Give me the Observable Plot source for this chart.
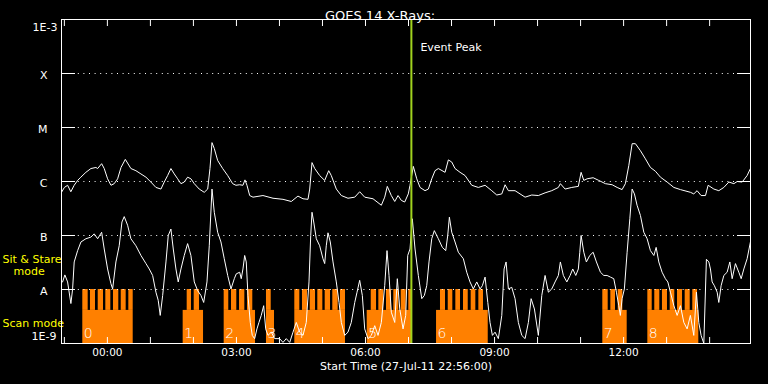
<!DOCTYPE html>
<html><head><meta charset="utf-8">
<script src="https://cdn.jsdelivr.net/npm/d3@7"></script>
<script src="https://cdn.jsdelivr.net/npm/@observablehq/plot@0.6"></script>
<style>html,body{margin:0;padding:0;background:#000;}</style>
</head><body><div id="chart"></div>
<script>
// ---- data (time = minutes after start 27-Jul-11 22:56, flux given as log10 W/m^2) ----
const title = "GOES 14 X-Rays:";
const caption = "Start Time (27-Jul-11 22:56:00)";
const xDomain = [0, 961];
const hourTicks = [4,64,124,184,244,304,364,424,484,544,604,664,724,784,844,904];
const labelTicks = [64,244,424,604,784];
const labelTickText = ["00:00","03:00","06:00","09:00","12:00"];
const classLevels = [1e-4,1e-5,1e-6,1e-7,1e-8];
const classNames = ["X","M","C","B","A"];
const topLabel = "1E-3", bottomLabel = "1E-9";

const upperTime = [0,4,8.5,13,17.7,22.5,27,34,41,48,50.4,56,59.6,64.3,69,73.5,78.3,83,89,96.8,103.8,110.8,117.8,124.7,131.7,138.7,143.3,148,152.6,157.3,162,166.6,171.2,175.9,180.5,185.2,192.1,199.1,203.9,207.1,209.9,213.1,217.8,224.8,231.8,238.7,243.3,248.5,253.1,255.9,258.7,262.5,267.1,281,295,308.9,320.5,329.8,336.8,343.8,346.2,349.4,353.2,360.1,367.1,372.7,376.3,383.3,390.3,399.6,409,415.9,422.9,434.5,446.1,450.8,454.4,460,464.8,469.4,474,478.7,483.7,486.1,490.7,495.5,500.1,507,511.7,516.4,521,525.6,535,539.6,544.3,548.9,555.9,562.9,572.2,581.4,590.8,600.1,607.1,614.1,618.7,623.3,632.6,646.6,655.9,665.1,674.5,683.8,693,695.8,702.4,711.7,720.9,724.7,728.5,733.1,741.5,749.4,758.6,768,775,781.9,786.5,791.3,795.9,800.5,807.5,814.4,821.4,828.4,835.4,844.7,854.1,863.3,877.2,881.9,886.5,892.1,898.2,901.9,909.9,916.8,923.8,930.8,937.8,942.4,949.4,956.3,960.9];
const upperLogFlux = [-6.20,-6.11,-6.07,-6.19,-6.07,-5.98,-5.92,-5.83,-5.76,-5.74,-5.76,-5.67,-5.76,-5.95,-6.07,-6.04,-5.95,-5.74,-5.59,-5.76,-5.80,-5.86,-5.92,-6.01,-6.11,-6.14,-6.01,-5.89,-5.76,-5.86,-5.95,-6.04,-6.01,-5.92,-5.95,-6.04,-6.14,-6.20,-6.14,-5.76,-5.28,-5.39,-5.61,-5.76,-5.89,-6.04,-6.07,-6.06,-6.07,-5.97,-6.07,-6.26,-6.29,-6.26,-6.31,-6.33,-6.37,-6.27,-6.32,-6.33,-6.14,-5.65,-5.76,-5.89,-5.98,-5.80,-5.89,-6.14,-6.26,-6.31,-6.29,-6.19,-6.29,-6.32,-6.44,-6.29,-6.09,-6.26,-6.37,-6.26,-6.35,-6.38,-6.23,-6.07,-5.72,-5.95,-6.11,-6.17,-6.14,-5.95,-5.80,-5.76,-5.83,-5.60,-5.64,-5.76,-5.83,-5.89,-6.07,-6.11,-6.07,-6.17,-6.25,-6.23,-6.06,-6.17,-6.17,-6.29,-6.25,-6.26,-6.21,-6.17,-6.11,-6.04,-6.14,-6.11,-6.09,-5.83,-5.98,-5.95,-5.93,-5.98,-6.04,-6.06,-6.11,-6.15,-6.04,-5.70,-5.30,-5.30,-5.43,-5.58,-5.74,-5.81,-5.92,-6.01,-6.11,-6.15,-6.20,-6.23,-6.17,-6.26,-6.26,-6.07,-6.14,-6.17,-6.11,-6.01,-6.04,-6.00,-6.01,-5.89,-5.76];

const lowerTime = [1.5,4.7,8.5,13.1,15.5,17.7,22.5,27.1,34,41,45.6,50.4,56,59.6,64.3,68.9,71.3,75.9,80.5,84.3,87.5,92.2,96.8,103.8,110.8,117.8,122.4,127.1,131.7,134.9,137.7,141.1,145.7,148.9,152.6,155.9,159.6,162.8,166.6,171.2,175.9,180.5,185.2,189.9,194.5,198.3,202.9,206.1,209.9,213.1,217.8,222.4,227,231.8,236.4,241,243.8,248.5,250.7,253.1,255.5,257.7,260.1,263.3,266.1,269.4,272.6,275.4,278.6,282,284.8,288,292.6,297.3,304.3,308.9,313.5,318.3,322.9,327.5,332.2,336.8,341.4,345.2,347.6,349.4,351.8,355.4,360.1,364.7,367.1,369.3,371.7,374.9,378.7,383.3,387.1,390.3,395,399.6,404.2,409,412.2,415.9,419.6,422.9,427.5,432.1,436.9,441.5,446.1,450.8,454,456.8,460,464.8,468.4,471.8,476.4,480.1,482.9,486.1,489.3,493.1,497.7,502.5,506.1,509.4,512.6,516.4,520,525.6,531.2,535.9,538.7,541,544.3,548.9,553.5,560.5,565.2,569.8,574.4,579.2,583.8,587,590.8,594.6,597.7,601,604.7,609.3,614.1,617.3,620.1,623.3,628,632.6,637.2,642,646.6,651.2,655,659.6,665.1,669.9,674.5,679.1,683.8,688.4,693,695.8,700,704.8,709.4,713.1,717.3,720.9,722.9,724.7,728.5,732.1,736.8,741.5,746.1,751.7,756.4,761,765.6,770.3,774,777.3,779.5,781.9,785.1,788.9,792.7,795.9,799.1,802.8,807.5,812.2,816.8,821.4,826.2,829.4,833.1,837.7,842.3,845.7,849.3,854.1,858.7,863.3,868,872.6,877.2,881.9,885.6,888.9,892.1,895.9,899.5,902.9,905.1,907.5,910.7,914.5,916.8,920,923.8,928.4,932.2,935.4,940,944.7,948,951.7,956.3,960.9];
const lowerLogFlux = [-7.86,-7.73,-7.86,-8.26,-7.99,-7.49,-7.28,-7.12,-7.06,-7.03,-6.97,-7.06,-6.94,-7.25,-7.62,-7.89,-7.99,-7.49,-7.19,-6.75,-6.65,-6.81,-7.06,-7.19,-7.37,-7.52,-7.62,-7.74,-8.05,-8.20,-8.48,-8.11,-7.49,-7.00,-6.88,-7.25,-7.62,-7.86,-7.62,-7.37,-7.15,-7.37,-7.86,-8.02,-8.11,-8.24,-7.86,-7.19,-6.14,-6.57,-6.94,-7.12,-7.43,-7.74,-7.99,-7.80,-7.71,-7.68,-7.80,-7.62,-7.37,-7.49,-8.11,-8.61,-8.85,-8.91,-8.73,-8.61,-8.48,-8.30,-8.73,-8.85,-8.79,-8.91,-8.91,-8.98,-8.91,-8.98,-8.79,-8.61,-8.79,-8.85,-8.61,-7.86,-7.00,-6.57,-6.75,-7.06,-7.19,-7.43,-7.52,-7.19,-6.95,-7.12,-7.49,-7.86,-8.24,-8.61,-8.85,-8.79,-8.61,-8.24,-8.05,-7.83,-8.11,-8.73,-8.91,-8.85,-8.67,-8.85,-8.61,-7.93,-7.28,-7.74,-8.42,-8.61,-7.80,-8.36,-8.73,-8.48,-7.37,-7.25,-6.69,-7.25,-7.74,-8.17,-8.11,-7.93,-7.49,-7.06,-6.91,-7.06,-7.22,-7.28,-7.00,-6.66,-6.94,-7.12,-7.31,-7.43,-7.68,-7.86,-7.99,-7.86,-7.99,-7.93,-7.77,-8.24,-8.61,-8.85,-8.79,-8.91,-8.48,-7.62,-7.49,-7.99,-7.96,-8.17,-8.61,-8.85,-8.91,-8.61,-8.17,-8.36,-8.85,-8.11,-7.74,-8.05,-7.99,-7.86,-7.74,-7.49,-7.74,-7.86,-7.74,-7.62,-7.74,-7.62,-7.31,-7.00,-7.31,-7.49,-7.37,-7.31,-7.49,-7.68,-7.74,-7.74,-7.77,-7.80,-8.05,-8.30,-8.48,-8.17,-7.99,-7.31,-6.69,-6.14,-6.23,-6.44,-6.63,-6.94,-7.06,-7.28,-7.37,-7.22,-7.49,-7.68,-7.80,-7.86,-8.05,-8.30,-8.48,-8.30,-8.61,-8.73,-8.48,-8.85,-8.05,-8.61,-8.85,-9.00,-7.44,-7.49,-7.62,-7.86,-7.93,-8.05,-8.24,-7.93,-7.74,-7.68,-7.49,-7.80,-7.52,-7.68,-7.80,-7.62,-7.43,-7.12];

// observation blocks: scan periods and sit & stare exposures
const blockIds = ["0","1","2","3","4","5","6","7","8"];
const scanStart = [29.7,169.7,226.9,285.9,325.4,426.4,523.1,755.0,817.8];
const scanEnd   = [100.0,198.1,270.6,297.1,396.1,489.6,595.2,789.0,888.9];
const stareStart = [29.7,40.4,51.2,61.8,72.5,83.3,93.9, 175.3,185.1, 226.9,237.1,248.3,259.4, 285.9, 325.4,336.1,346.9,357.5,367.8,378.4,389.1, 432.0,442.6,453.3,463.5,473.8,484.4, 528.6,539.4,550.0,560.7,571.4,582.1, 755.0,766.2,776.5, 817.8,827.5,838.2,849.0,859.2,869.9,880.5];
const stareEnd   = [37.2,47.4,58.6,68.8,79.9,90.2,100.0, 181.3,192.5, 233.3,244.5,255.7,266.8, 292.5, 332.4,343.1,354.3,364.5,375.2,385.9,396.1, 439.4,449.5,460.3,470.5,480.8,489.6, 535.6,545.8,556.5,567.3,577.9,588.6, 762.5,772.7,782.9, 823.9,834.5,845.2,855.4,866.2,876.9,887.1];
const scanLevel = [1e-9, 4.1e-9];
const stareLevel = [4.1e-9, 1e-8];
const eventPeak = [{t: 488, label: "Event Peak"}];
const modeLabels = [
  {text: "Sit & Stare", y: 3.6e-8, dx: -59},
  {text: "mode", y: 2.15e-8, dx: -48},
  {text: "Scan mode", y: 2.3e-9, dx: -59}
];
const blockLabelY = 1.53e-9;

// ---- build tables ----
const upper = upperTime.map((t, i) => ({t, f: 10 ** upperLogFlux[i]}));
const lower = lowerTime.map((t, i) => ({t, f: 10 ** lowerLogFlux[i]}));
const scans = blockIds.map((id, i) => ({id, a: scanStart[i], b: scanEnd[i]}));
const stares = stareStart.map((a, i) => ({a, b: stareEnd[i]}));

const ORANGE = "#ff8000", GREEN = "#a0d21e", YELLOW = "#ffff00";
const classIdx = new Map(classLevels.map((v, i) => [v, i]));

const chart = Plot.plot({
  width: 768, height: 384,
  marginLeft: 61, marginRight: 18, marginTop: 19, marginBottom: 41,
  style: {background: "#000", color: "#fff", fontFamily: "DejaVu Sans, sans-serif", fontSize: "11px", overflow: "visible"},
  x: {domain: xDomain},
  y: {type: "log", domain: [1e-9, 1e-3]},
  marks: [
    Plot.rect(scans, {x1: "a", x2: "b", y1: () => scanLevel[0], y2: () => scanLevel[1], fill: ORANGE}),
    Plot.rect(stares, {x1: "a", x2: "b", y1: () => stareLevel[0], y2: () => stareLevel[1], fill: ORANGE}),
    Plot.gridY(classLevels, {stroke: "#fff", strokeOpacity: 1, strokeDasharray: "1,4.6"}),
    Plot.axisY({anchor: "left", ticks: classLevels, tickSize: 14, dx: 14, tickFormat: () => "", label: null, stroke: "#fff"}),
    Plot.axisY({anchor: "right", ticks: classLevels, tickSize: 14, dx: -14, tickFormat: () => "", label: null, stroke: "#fff"}),
    Plot.axisY({anchor: "left", ticks: classLevels, tickSize: 0, tickPadding: 14, dy: 1.5, tickFormat: d => classNames[classIdx.get(d)], label: null, fontSize: 11}),
    Plot.text([topLabel], {frameAnchor: "top-left", dx: -4, dy: 4, textAnchor: "end", fill: "#fff", fontSize: 11}),
    Plot.text([bottomLabel], {frameAnchor: "bottom-left", dx: -5, dy: -3.5, textAnchor: "end", fill: "#fff", fontSize: 11}),
    Plot.axisX({anchor: "top", ticks: hourTicks, tickSize: 6, dy: 6, tickFormat: () => "", label: null}),
    Plot.axisX({anchor: "bottom", ticks: hourTicks, tickSize: 6, dy: -6, tickFormat: () => "", label: null}),
    Plot.text(labelTicks, {x: d => d, text: (d, i) => labelTickText[i], frameAnchor: "bottom", dy: 12, fill: "#fff", fontSize: 10.5}),
    Plot.text([caption], {frameAnchor: "bottom", dy: 26, fill: "#fff", fontSize: 11}),
    Plot.text([title], {frameAnchor: "top", dy: -9, dx: -26, fill: "#fff", fontSize: 13}),
    Plot.line(upper, {x: "t", y: "f", stroke: "#fff", strokeWidth: 1, clip: "frame"}),
    Plot.line(lower, {x: "t", y: "f", stroke: "#fff", strokeWidth: 1, clip: "frame"}),
    Plot.text(scans, {x: "a", y: () => blockLabelY, text: "id", dx: 1, textAnchor: "start", fill: "#fff", fontSize: 14, fontWeight: 300}),
    Plot.ruleX(eventPeak, {x: "t", stroke: GREEN, strokeWidth: 2}),
    Plot.text(eventPeak, {x: "t", text: "label", frameAnchor: "top", dy: 24, dx: 9, textAnchor: "start", fill: "#fff", fontSize: 11}),
    ...modeLabels.map(m => Plot.text([m], {y: "y", text: "text", frameAnchor: "left", dx: m.dx, textAnchor: "start", fill: YELLOW, fontSize: 11})),
    Plot.frame({stroke: "#fff"})
  ]
});
document.getElementById("chart").append(chart);
</script>
</body></html>
